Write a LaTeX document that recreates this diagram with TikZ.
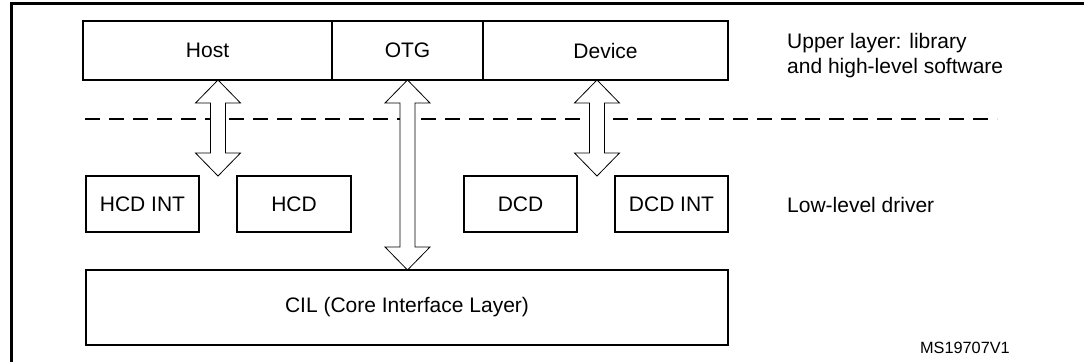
\documentclass[tikz,border=0pt]{standalone}
\usepackage{fontspec}
\setmainfont{Liberation Sans}
\usetikzlibrary{calc}
\tikzset{
  layerbox/.style={draw, line width=1.6pt, outer sep=0pt, minimum height=59pt,
    font=\fontsize{21}{24}\selectfont},
  drvbox/.style={draw, line width=1.6pt, outer sep=0pt, minimum width=113.5pt,
    minimum height=56pt, font=\fontsize{21}{24}\selectfont},
  fatarrow/.style={draw, line width=0.8pt, fill=white},
  note/.style={anchor=west, align=left, inner sep=0pt,
    font=\fontsize{21}{25}\selectfont}
}
% double headed hollow arrow from #1 (top) to #2 (bottom)
\newcommand\fatarrow[2]{%
  \draw[fatarrow] (#1) -- ++(22.5,23) -- ++(-15,0) -- ($(#2)+(7.5,-23)$)
    -- ++(15,0) -- (#2) -- ++(-22.5,-23) -- ++(15,0)
    -- ($(#1)+(-7.5,23)$) -- ++(-15,0) -- cycle;}
\begin{document}
\begin{tikzpicture}[x=1pt, y=-1pt]
  \useasboundingbox (0,0) rectangle (1084,362);
  % frame
  \draw[line width=3pt] (11,362) -- (11,3) -- (1084,3);
  % upper layer
  \node[layerbox, minimum width=249pt] (host) at (207.5,50.5) {Host};
  \node[layerbox, minimum width=151pt, anchor=west] (otg) at (host.east) {OTG};
  \node[layerbox, minimum width=245pt, anchor=west] (device) at (otg.east) {Device};
  % layer separation
  \draw[line width=2.4pt, dash pattern=on 15pt off 9pt] (85,119) -- (997,119);
  % low-level driver
  \foreach \name/\txt/\x in {
    hcdint/HCD INT/142.5,
    hcd/HCD/294,
    dcd/DCD/520.5,
    dcdint/DCD INT/671.5} {
      \node[drvbox] (\name) at (\x,204) {\txt};
    }
  \node[layerbox, minimum width=642pt, minimum height=75pt] (cil) at (407,307.5)
    {CIL (Core Interface Layer)};
  % arrows
  \coordinate (hostup) at (218,80);
  \coordinate (devup) at (597,80);
  \fatarrow{hostup}{hostup |- hcd.north}
  \fatarrow{otg.south}{otg.south |- cil.north}
  \fatarrow{devup}{devup |- dcd.north}
  % notes
  \node[note] (upper) at (787,55.5) {Upper layer: library\\and high-level software};
  \node[note] (lower) at (787,205) {Low-level driver};
  \node[note, anchor=east, font=\fontsize{16.3}{18}\selectfont] (ref) at (1010,348) {MS19707V1};
\end{tikzpicture}
\end{document}
